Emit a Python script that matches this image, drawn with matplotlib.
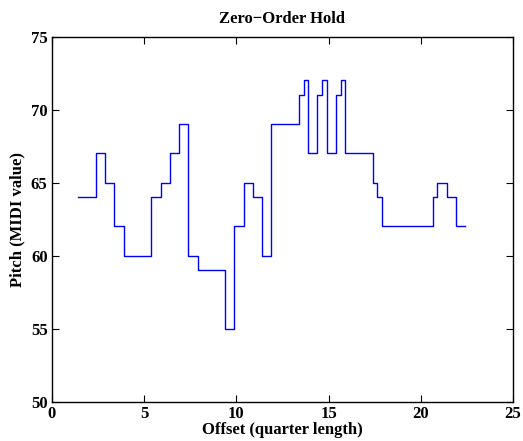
import matplotlib
matplotlib.use("Agg")
import matplotlib.pyplot as plt

# note start offsets (quarter lengths) and MIDI pitches
offsets = [1.45, 2.4, 2.9, 3.4, 3.9, 5.4, 5.9, 6.4, 6.9, 7.4, 7.9, 9.4, 9.9,
           10.4, 10.9, 11.4, 11.9, 13.4, 13.65, 13.9, 14.4, 14.65, 14.9,
           15.4, 15.65, 15.9, 17.4, 17.65, 17.9, 20.65, 20.9, 21.4, 21.9]
pitches = [64, 67, 65, 62, 60, 64, 65, 67, 69, 60, 59, 55, 62,
           65, 64, 60, 69, 71, 72, 67, 71, 72, 67,
           71, 72, 67, 65, 64, 62, 64, 65, 64, 62]
end_offset = 22.4

xticks = [0, 5, 10, 15, 20, 25]
yticks = [50, 55, 60, 65, 70, 75]

plt.rcParams['font.family'] = ['Liberation Serif', 'DejaVu Serif']
plt.rcParams['font.weight'] = 'bold'

fig = plt.figure(figsize=(5.23, 4.41), dpi=100)
ax = fig.add_axes([0.0989, 0.0891, 0.8821, 0.8277])

xs = offsets + [end_offset]
ys = pitches + [pitches[-1]]
ax.step(xs, ys, where='post', color='#0000ff', linewidth=1.0)

ax.set_xlim(0, 25)
ax.set_ylim(50, 75)
ax.set_xticks(xticks)
ax.set_yticks(yticks)
ax.tick_params(direction='in', top=True, right=True, length=5, width=0.8,
               labelsize=12)
ax.tick_params(axis='x', pad=3)
ax.tick_params(axis='y', pad=3)
for lab in ax.get_xticklabels() + ax.get_yticklabels():
    lab.set_fontweight('bold')
for s in ax.spines.values():
    s.set_linewidth(1.0)

ax.set_title('Zero\u2212Order Hold', fontsize=12, fontweight='bold', pad=10)
ax.set_xlabel('Offset (quarter length)', fontsize=12, fontweight='bold', labelpad=0)
ax.set_ylabel('Pitch (MIDI value)', fontsize=12, fontweight='bold', labelpad=4)

fig.savefig('out.png', dpi=100)
